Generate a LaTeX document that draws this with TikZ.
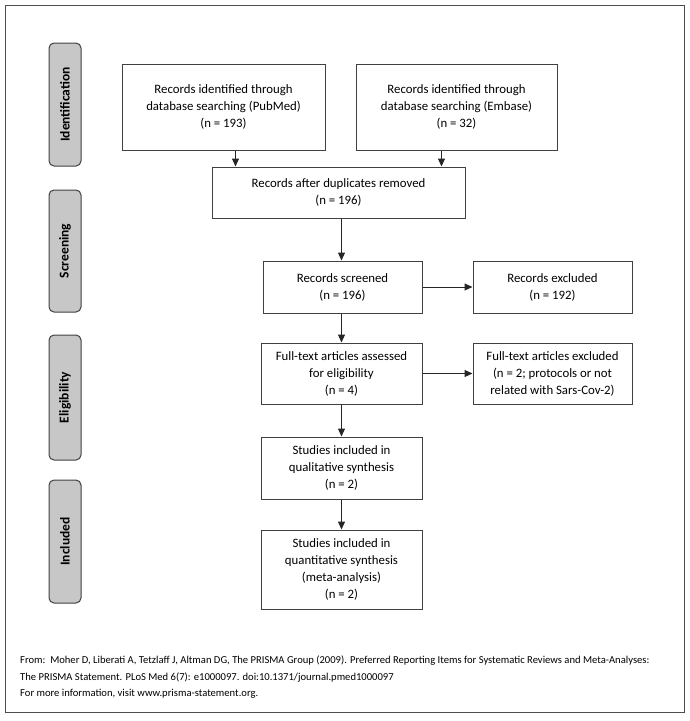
\documentclass[tikz,border=0pt]{standalone}
\usepackage{fontspec}
\setmainfont{Carlito}
\usetikzlibrary{positioning, calc, arrows.meta}

\begin{document}
\begin{tikzpicture}[x=1pt, y=-1pt, >={Triangle[length=8pt,width=7pt]},
    box/.style={draw=black!75, line width=1pt, align=center, inner sep=0pt,
        font=\fontsize{12.8}{17}\selectfont},
    phase/.style={draw=black!75, line width=1pt, fill=black!22, rounded corners=5pt,
        rotate=90, minimum height=32pt, inner sep=0pt,
        font=\fontsize{13.5}{16}\selectfont\bfseries},
    link/.style={->, line width=1pt, draw=black!85},
    note/.style={anchor=west, inner sep=0pt, font=\fontsize{10.6}{12}\selectfont}]
    \useasboundingbox (0,0) rectangle (690,721);

    % Frame
    \draw[line width=1pt, black!70] (5,5) rectangle (684,712);

    % Phases
    \node[phase, minimum width=123pt] (idf) at (65,104.5) {Identification};
    \node[phase, minimum width=122pt] (scn) at (65,251) {Screening};
    \node[phase, minimum width=125pt] (elg) at (65,397.5) {Eligibility};
    \node[phase, minimum width=123pt] (inc) at (65,541.5) {Included};

    % Boxes
    \node[box, minimum width=203pt, minimum height=86pt] (pub) at (223.5,107)
        {Records identified through\\database searching (PubMed)\\(n = 193)};
    \node[box, minimum width=201pt, minimum height=86pt] (emb) at (456.5,107)
        {Records identified through\\database searching (Embase)\\(n = 32)};
    \node[box, minimum width=253pt, minimum height=51pt] (dup) at (338.5,192.5)
        {Records after duplicates removed\\(n = 196)};
    \node[box, minimum width=159pt, minimum height=52pt] (scr) at (342.5,287)
        {Records screened\\(n = 196)};
    \node[box, minimum width=159pt, minimum height=52pt] (rex) at (552.5,287)
        {Records excluded\\(n = 192)};
    \node[box, minimum width=161pt, minimum height=61pt] (ful) at (341.5,373.5)
        {Full-text articles assessed\\for eligibility\\(n = 4)};
    \node[box, minimum width=159pt, minimum height=61pt] (fex) at (552.5,373.5)
        {Full-text articles excluded\\(n = 2; protocols or not\\related with Sars-Cov-2)};
    \node[box, minimum width=161pt, minimum height=62pt] (qal) at (341.5,468)
        {Studies included in\\qualitative synthesis\\(n = 2)};
    \node[box, minimum width=161pt, minimum height=79pt] (qnt) at (341.5,569.5)
        {Studies included in\\quantitative synthesis\\(meta-analysis)\\(n = 2)};

    % Arrows
    \draw[link] ([xshift=12pt]pub.south) -- ([xshift=12pt]pub.south |- dup.north);
    \draw[link] ([xshift=-15pt]emb.south) -- ([xshift=-15pt]emb.south |- dup.north);
    \draw[link] (dup.south -| ful.north) -- (ful.north |- scr.north);
    \draw[link] (scr.south -| ful.north) -- (ful.north);
    \draw[link] (scr.east) -- (rex.west);
    \draw[link] (ful.east) -- (fex.west);
    \draw[link] (ful.south) -- (qal.north);
    \draw[link] (qal.south) -- (qnt.north);

    % Source
    \node[note] (src1) at (20,661) {From:\ \ Moher D, Liberati A, Tetzlaff J, Altman DG, The PRISMA Group (2009). Preferred Reporting Items for Systematic Reviews and Meta-Analyses:};
    \node[note] (src2) at (20,677.5) {The PRISMA Statement. PLoS Med 6(7): e1000097. doi:10.1371/journal.pmed1000097};
    \node[note] (src3) at (20,694) {For more information, visit www.prisma-statement.org.};
\end{tikzpicture}
\end{document}
